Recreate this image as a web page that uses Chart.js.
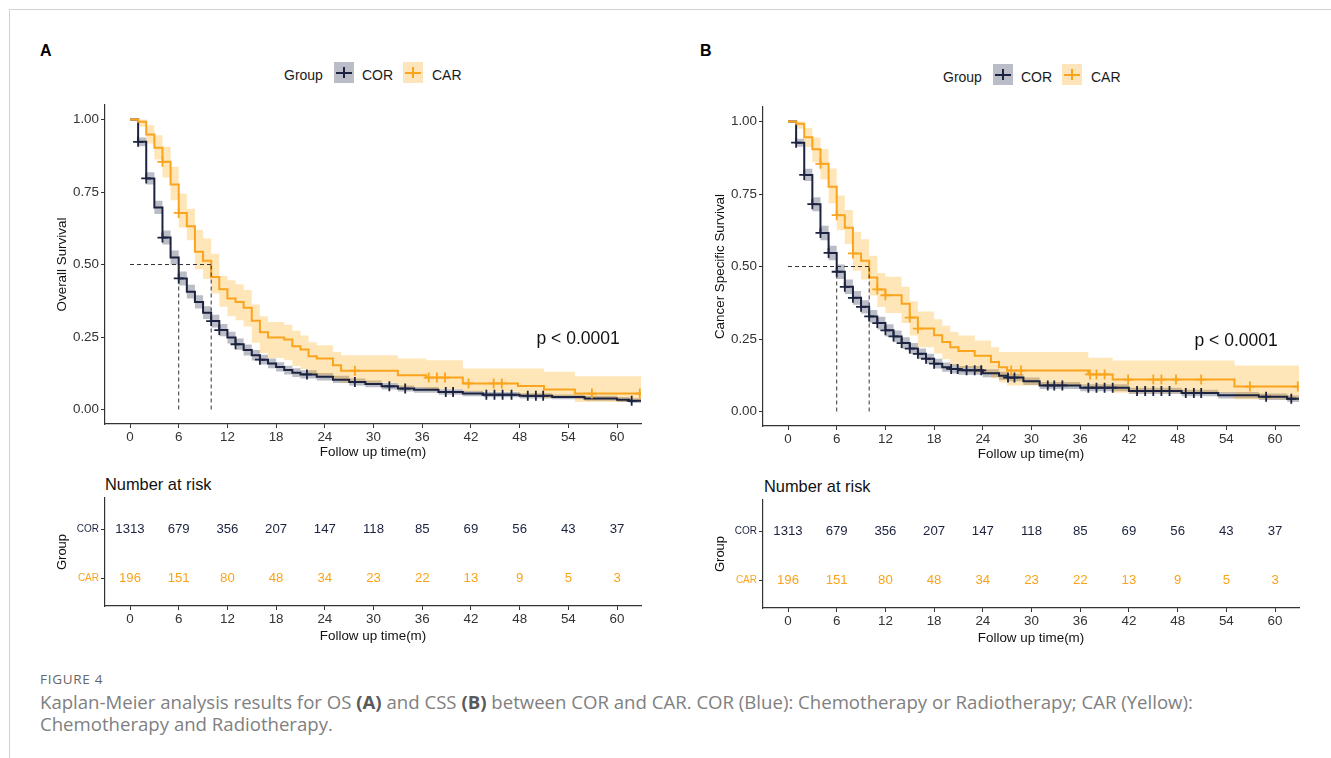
<!DOCTYPE html>
<html>
<head>
<meta charset="utf-8">
<script src="https://cdn.jsdelivr.net/npm/chart.js@4.4.1/dist/chart.umd.min.js"></script>
<style>
  html, body { margin: 0; padding: 0; background: #fff; }
  body { width: 1331px; height: 758px; position: relative; overflow: hidden;
         font-family: 'Liberation Sans', Arial, sans-serif; color: #111; }
  .frame { position: absolute; left: 9px; top: 9px; right: -2px; bottom: -2px;
           border-left: 1px solid #d2d2d2; border-top: 1px solid #d2d2d2; }
  .abs { position: absolute; white-space: nowrap; }
  canvas { position: absolute; }
  .tag { font-weight: bold; font-size: 16px; line-height: 18px; color: #000; }
  .leg { font-size: 14px; line-height: 20px; color: #1a1a1a; }
  .key { position: absolute; width: 20px; height: 21px; }
  .key::before { content: ''; position: absolute; left: 2px; right: 2px; top: 9.5px; height: 2px; background: var(--c); }
  .key::after { content: ''; position: absolute; left: 9px; width: 2px; top: 5px; bottom: 5px; background: var(--c); }
  .key.cor { background: #babdc7; --c: #1c2340; }
  .key.car { background: #fde4bb; --c: #f9a41c; }
  .risk-title { font-size: 16.4px; line-height: 18px; color: #111; }
  .cap-title { font-family: 'Open Sans', sans-serif; font-size: 13.5px; line-height: 16px; color: #666; letter-spacing: 0.7px; }
  .cap { font-family: 'Open Sans', sans-serif; font-size: 18.6px; line-height: 22px; color: #808080; }
  .cap b { color: #5a5a5a; }
</style>
</head>
<body>
<div class="frame"></div>

<div class="abs tag" style="left:40px; top:42px;">A</div>
<div class="abs tag" style="left:700px; top:42px;">B</div>

<div class="abs leg" style="left:284px; top:65px;">Group</div>
<div class="key cor" style="left:334px; top:62px;"></div>
<div class="abs leg" style="left:362px; top:65px;">COR</div>
<div class="key car" style="left:403px; top:62px;"></div>
<div class="abs leg" style="left:432px; top:65px;">CAR</div>

<div class="abs leg" style="left:943px; top:67px;">Group</div>
<div class="key cor" style="left:993px; top:64px;"></div>
<div class="abs leg" style="left:1021px; top:67px;">COR</div>
<div class="key car" style="left:1062px; top:64px;"></div>
<div class="abs leg" style="left:1091px; top:67px;">CAR</div>

<canvas id="kmA" width="611" height="375" style="left:40px; top:95px;"></canvas>
<canvas id="kmB" width="611" height="375" style="left:698px; top:97px;"></canvas>

<div class="abs risk-title" style="left:105px; top:475px;">Number at risk</div>
<div class="abs risk-title" style="left:764px; top:477px;">Number at risk</div>
<canvas id="riskA" width="611" height="160" style="left:40px; top:490px;"></canvas>
<canvas id="riskB" width="611" height="160" style="left:698px; top:492px;"></canvas>

<div class="abs cap-title" style="left:40px; top:671px;">FIGURE 4</div>
<div class="abs cap" style="left:40px; top:691px;">Kaplan-Meier analysis results for OS <b>(A)</b> and CSS <b>(B)</b> between COR and CAR. COR (Blue): Chemotherapy or Radiotherapy; CAR (Yellow):<br>Chemotherapy and Radiotherapy.</div>

<script>
// axis ticks
const timeTicks = [0, 6, 12, 18, 24, 30, 36, 42, 48, 54, 60];
const survTicks = [0, 0.25, 0.5, 0.75, 1];

// A: overall survival, COR
const osCorTime = [0,1,2,3,4,5,6,7,8,9,10,11,12,13,14,15,16,17,18,19,20,21,23,25,27,29,31,33,35,38,41,43.5,48,52,56,60,61.5,63];
const osCorSurv = [1.000,0.923,0.797,0.697,0.593,0.524,0.452,0.406,0.371,0.334,0.305,0.274,0.248,0.225,0.205,0.187,0.172,0.159,0.147,0.136,0.127,0.121,0.113,0.103,0.095,0.088,0.080,0.072,0.068,0.060,0.055,0.051,0.047,0.043,0.038,0.034,0.030,0.030];
const osCorUp   = [1.000,0.938,0.818,0.720,0.617,0.548,0.476,0.430,0.394,0.356,0.327,0.295,0.268,0.245,0.224,0.205,0.189,0.176,0.163,0.151,0.142,0.135,0.126,0.116,0.107,0.100,0.091,0.083,0.078,0.070,0.065,0.060,0.056,0.052,0.047,0.043,0.039,0.039];
const osCorLow  = [1.000,0.908,0.776,0.674,0.569,0.500,0.428,0.383,0.348,0.312,0.283,0.253,0.228,0.206,0.186,0.169,0.155,0.142,0.131,0.121,0.112,0.107,0.100,0.091,0.083,0.077,0.069,0.062,0.058,0.051,0.046,0.042,0.038,0.035,0.030,0.026,0.022,0.022];
const osCorCens = [1,2,4,6,10,11,13,16,21.8,27.7,31.95,33.9,38.9,39.8,43.9,44.9,45.9,47,49,50,50.9,61.8];

// A: overall survival, CAR
const osCarTime = [0,1,2,3,4,5,6,7,8,9,10,11,12,13,14,15,16,17,19,20,21,22,23,25,26,33,36.5,41,47.8,51,54.8,63];
const osCarSurv = [1.000,0.992,0.948,0.903,0.854,0.776,0.678,0.632,0.544,0.513,0.457,0.415,0.383,0.371,0.351,0.306,0.266,0.248,0.241,0.218,0.207,0.184,0.176,0.153,0.134,0.118,0.110,0.090,0.081,0.069,0.055,0.055];
const osCarUp   = [1.000,1.000,0.980,0.946,0.906,0.837,0.745,0.692,0.620,0.590,0.537,0.460,0.446,0.432,0.412,0.362,0.322,0.302,0.292,0.272,0.255,0.232,0.222,0.198,0.187,0.176,0.170,0.141,0.141,0.130,0.115,0.115];
const osCarLow  = [1.000,0.975,0.917,0.862,0.800,0.722,0.628,0.584,0.484,0.450,0.400,0.354,0.322,0.308,0.286,0.230,0.195,0.178,0.170,0.150,0.140,0.122,0.118,0.100,0.092,0.076,0.070,0.061,0.050,0.040,0.026,0.026];
const osCarCens = [4,6,27.7,36.8,37.8,38.8,41.7,44.8,45.8,56.9,62.8];

// B: cancer specific survival, COR
const cssCorTime = [0,1,2,3,4,5,6,7,8,9,10,11,12,13,14,15,16,17,18,19,20,21,24,26,27,29,31,36,42,48.5,53,58,61.5,63];
const cssCorSurv = [1.000,0.927,0.816,0.715,0.616,0.547,0.482,0.430,0.392,0.361,0.328,0.305,0.280,0.259,0.236,0.217,0.199,0.182,0.165,0.153,0.147,0.142,0.132,0.123,0.117,0.104,0.090,0.082,0.071,0.064,0.056,0.051,0.044,0.044];
const cssCorUp   = [1.000,0.941,0.837,0.739,0.641,0.572,0.507,0.455,0.416,0.384,0.350,0.327,0.301,0.279,0.256,0.236,0.217,0.199,0.182,0.169,0.163,0.157,0.146,0.137,0.130,0.117,0.102,0.094,0.082,0.075,0.067,0.062,0.055,0.055];
const cssCorLow  = [1.000,0.913,0.795,0.691,0.591,0.522,0.457,0.405,0.368,0.338,0.306,0.283,0.259,0.239,0.216,0.198,0.181,0.165,0.148,0.137,0.131,0.127,0.118,0.109,0.104,0.091,0.078,0.070,0.060,0.053,0.045,0.040,0.033,0.033];
const cssCorCens = [1,2,3,4,5,6,7,8,9,10,11,12,13,14,15,16,17,18,20.1,20.9,22,23,23.8,27.1,27.9,32,32.8,33.8,37,38,39,40,43,44,45,46,47,49,50,50.9,58.9,62];

// B: cancer specific survival, CAR
const cssCarTime = [0,1,2,3,4,5,6,7,8,9,10,11,12,14,15,16,18,19,20,21,23,25,26,27,37,40,55,63];
const cssCarSurv = [1.000,0.992,0.946,0.904,0.854,0.775,0.677,0.634,0.545,0.520,0.462,0.421,0.401,0.372,0.324,0.286,0.263,0.240,0.222,0.209,0.192,0.171,0.153,0.141,0.128,0.110,0.086,0.086];
const cssCarUp   = [1.000,1.000,0.978,0.945,0.905,0.838,0.745,0.695,0.620,0.594,0.537,0.478,0.465,0.430,0.380,0.345,0.318,0.296,0.274,0.262,0.245,0.222,0.205,0.205,0.185,0.176,0.159,0.159];
const cssCarLow  = [1.000,0.975,0.912,0.860,0.800,0.718,0.625,0.578,0.485,0.455,0.400,0.360,0.340,0.305,0.262,0.222,0.200,0.180,0.160,0.150,0.133,0.115,0.100,0.090,0.080,0.065,0.042,0.042];
const cssCarCens = [4,6,8,11,12,15,16,27.5,28.7,37.2,38,39,41.9,45,46,47.8,50.9,56.9,62.8];

// median survival (COR, CAR)
const osMedian = [6, 10];
const cssMedian = [6, 10];

// number at risk
const riskCor = [1313, 679, 356, 207, 147, 118, 85, 69, 56, 43, 37];
const riskCar = [196, 151, 80, 48, 34, 23, 22, 13, 9, 5, 3];

const pText = 'p < 0.0001';
const pPos = [55.2, 0.243];

const navy = '#1c2340';
const orange = '#f9a41c';
const FONT = "'Liberation Sans', Arial, sans-serif";
const xMin = -3.08, xMax = 62.95;

Chart.defaults.font.family = FONT;

function pts(times, vals) {
    return times.map((t, i) => ({ x: t, y: vals[i] }));
}

function survAt(times, surv, t) {
    let v = surv[0];
    for (let i = 0; i < times.length; i++) {
        if (times[i] <= t) v = surv[i];
    }
    return v;
}

function censorPts(times, surv, cens) {
    return cens.map(t => ({ x: t, y: survAt(times, surv, t) }));
}

function medianPts(meds) {
    const out = [{ x: 0, y: 0.5 }, { x: Math.max(...meds), y: 0.5 }];
    meds.forEach(m => {
        out.push({ x: m, y: null });
        out.push({ x: m, y: 0 });
        out.push({ x: m, y: 0.5 });
    });
    return out;
}

function band(times, vals, fill, color) {
    return {
        data: pts(times, vals), stepped: true, fill: fill, backgroundColor: color,
        borderColor: 'rgba(0,0,0,0)', borderWidth: 0, pointRadius: 0, order: 10
    };
}

function xAxis(height, pad, titlePad) {
    return {
        type: 'linear', min: xMin, max: xMax,
        afterBuildTicks: s => { s.ticks = timeTicks.map(v => ({ value: v })); },
        afterFit: s => { s.height = height; },
        grid: { drawOnChartArea: false, drawTicks: true, tickLength: 4, color: '#333' },
        border: { display: true, color: '#333', width: 1.2 },
        ticks: { autoSkip: false, maxRotation: 0, padding: pad, color: '#333', font: { size: 13.4 } },
        title: { display: true, text: 'Follow up time(m)', color: '#111', font: { size: 13.4 }, padding: { top: 0, bottom: titlePad } }
    };
}

const pLabel = {
    id: 'pLabel',
    afterDatasetsDraw(chart) {
        const { ctx, scales: { x, y } } = chart;
        ctx.save();
        ctx.font = '17.5px ' + FONT;
        ctx.fillStyle = '#111';
        ctx.textAlign = 'center';
        ctx.textBaseline = 'middle';
        ctx.fillText(pText, x.getPixelForValue(pPos[0]), y.getPixelForValue(pPos[1]));
        ctx.restore();
    }
};

function makeKM(id, cor, car, meds, yTitle) {
    new Chart(document.getElementById(id), {
        type: 'line',
        data: {
            datasets: [
                band(car.t, car.up, '+1', 'rgba(255,165,0,0.28)'),
                band(car.t, car.low, false, 'rgba(0,0,0,0)'),
                band(cor.t, cor.up, '+1', 'rgba(28,35,64,0.30)'),
                band(cor.t, cor.low, false, 'rgba(0,0,0,0)'),
                { data: pts(cor.t, cor.s), stepped: true, fill: false, borderColor: navy, borderWidth: 2, pointRadius: 0, order: 5 },
                { data: pts(car.t, car.s), stepped: true, fill: false, borderColor: orange, borderWidth: 2, pointRadius: 0, order: 4 },
                { data: medianPts(meds), fill: false, borderColor: '#333', borderWidth: 1, borderDash: [4, 3], pointRadius: 0, order: 3 },
                { type: 'scatter', data: censorPts(cor.t, cor.s, cor.c), pointStyle: 'cross', pointRadius: 5, borderColor: navy, borderWidth: 1.8, order: 2 },
                { type: 'scatter', data: censorPts(car.t, car.s, car.c), pointStyle: 'cross', pointRadius: 5, borderColor: orange, borderWidth: 1.8, order: 1 }
            ]
        },
        options: {
            responsive: false, animation: false, events: [],
            layout: { padding: { left: 0, right: 10, top: 10, bottom: 0 } },
            plugins: { legend: { display: false }, tooltip: { enabled: false } },
            scales: {
                x: xAxis(46, 1, 10),
                y: {
                    type: 'linear', min: -0.05, max: 1.05,
                    afterBuildTicks: s => { s.ticks = survTicks.map(v => ({ value: v })); },
                    afterFit: s => { s.width = 65; },
                    grid: { drawOnChartArea: false, drawTicks: true, tickLength: 4, color: '#333' },
                    border: { display: true, color: '#333', width: 1.2 },
                    ticks: { padding: 2, color: '#333', font: { size: 13.4 }, callback: v => v.toFixed(2) },
                    title: { display: true, text: yTitle, color: '#111', font: { size: 13.4 }, padding: { top: 14.7, bottom: 0 } }
                }
            }
        },
        plugins: [pLabel]
    });
}

const riskNumbers = {
    id: 'riskNumbers',
    afterDatasetsDraw(chart) {
        const { ctx, scales: { x, y } } = chart;
        ctx.save();
        ctx.font = '13.2px ' + FONT;
        ctx.textAlign = 'center';
        ctx.textBaseline = 'middle';
        timeTicks.forEach((t, i) => {
            ctx.fillStyle = navy;
            ctx.fillText(String(riskCor[i]), x.getPixelForValue(t), y.getPixelForValue(1));
            ctx.fillStyle = orange;
            ctx.fillText(String(riskCar[i]), x.getPixelForValue(t), y.getPixelForValue(0));
        });
        ctx.restore();
    }
};

function makeRisk(id) {
    new Chart(document.getElementById(id), {
        type: 'scatter',
        data: { datasets: [{ data: [] }] },
        options: {
            responsive: false, animation: false, events: [],
            layout: { padding: { left: 0, right: 10, top: 8, bottom: 0 } },
            plugins: { legend: { display: false }, tooltip: { enabled: false } },
            scales: {
                x: xAxis(44, 1, 6),
                y: {
                    type: 'linear', min: -0.56, max: 1.64,
                    afterBuildTicks: s => { s.ticks = [{ value: 0 }, { value: 1 }]; },
                    afterFit: s => { s.width = 65; },
                    grid: { drawOnChartArea: false, drawTicks: true, tickLength: 4, color: '#333' },
                    border: { display: true, color: '#333', width: 1.2 },
                    ticks: {
                        padding: 2, font: { size: 10 },
                        color: c => (c.tick && c.tick.value === 1) ? navy : orange,
                        callback: v => v === 1 ? 'COR' : 'CAR'
                    },
                    title: { display: true, text: 'Group', color: '#111', font: { size: 13 }, padding: { top: 14.9, bottom: 0 } }
                }
            }
        },
        plugins: [riskNumbers]
    });
}

makeKM('kmA',
    { t: osCorTime, s: osCorSurv, up: osCorUp, low: osCorLow, c: osCorCens },
    { t: osCarTime, s: osCarSurv, up: osCarUp, low: osCarLow, c: osCarCens },
    osMedian, 'Overall Survival');

makeKM('kmB',
    { t: cssCorTime, s: cssCorSurv, up: cssCorUp, low: cssCorLow, c: cssCorCens },
    { t: cssCarTime, s: cssCarSurv, up: cssCarUp, low: cssCarLow, c: cssCarCens },
    cssMedian, 'Cancer Specific Survival');

makeRisk('riskA');
makeRisk('riskB');
</script>
</body>
</html>
